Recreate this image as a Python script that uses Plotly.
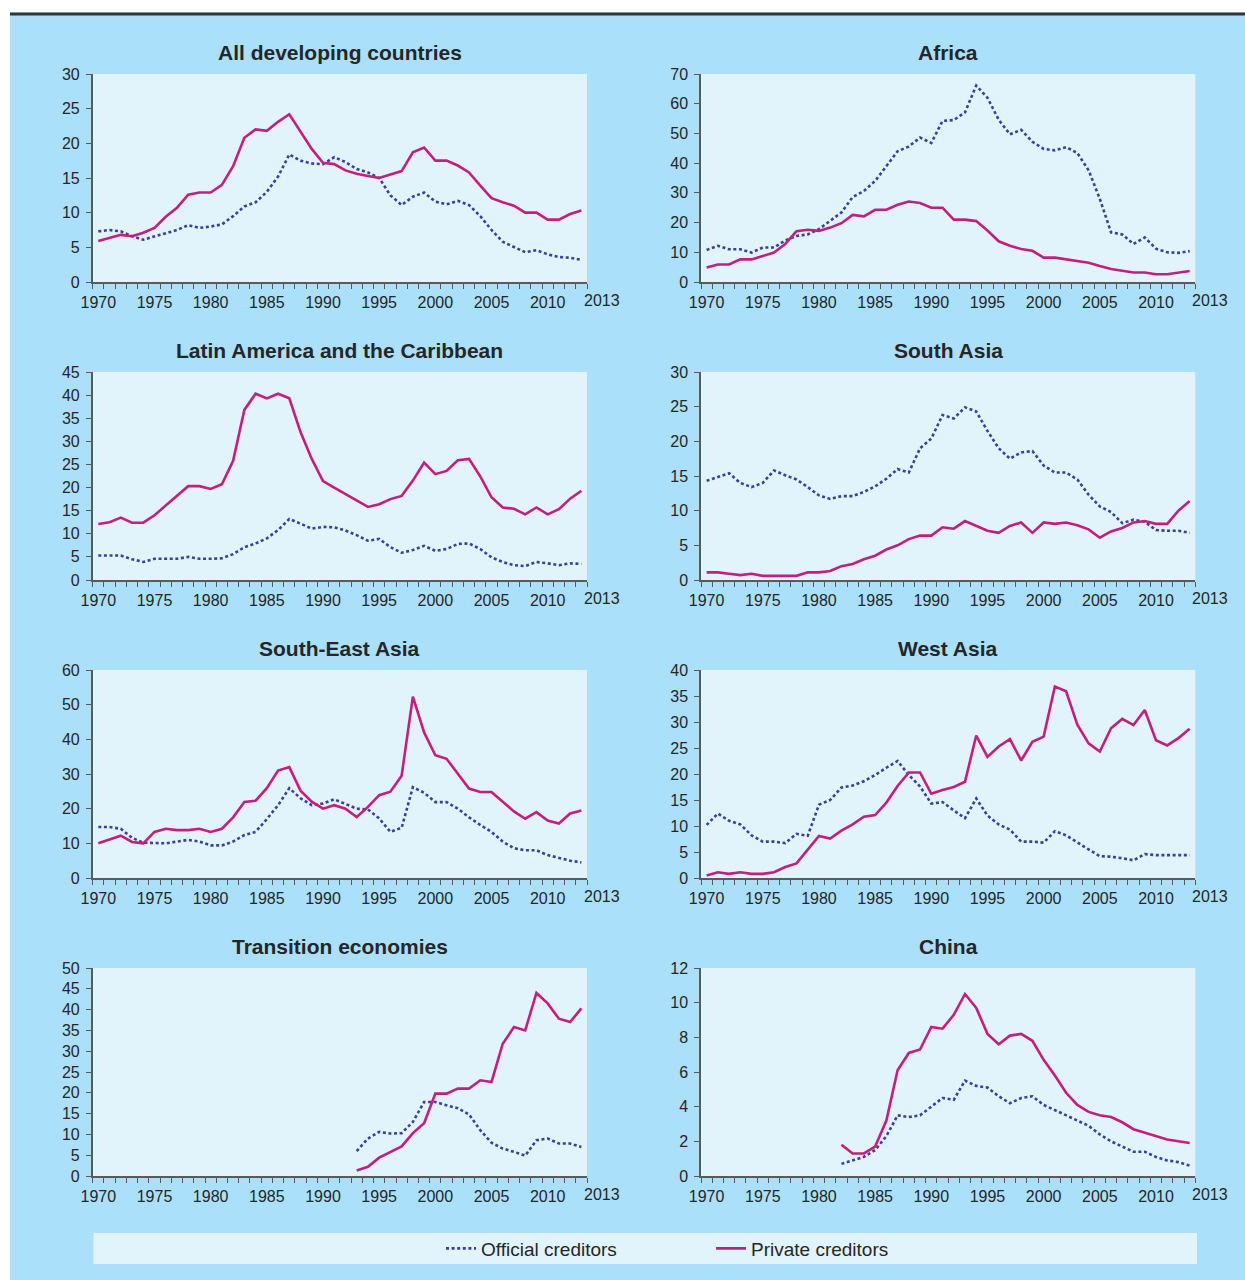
import plotly.graph_objects as go

W, H = 1245, 1280

years = list(range(1970, 2014))
years_transition = list(range(1993, 2014))
years_china = list(range(1982, 2014))

# ---- data (percent) ----
all_official = [7.3, 7.5, 7.3, 6.6, 6.1, 6.6, 7.0, 7.5, 8.2, 7.8,
                8.0, 8.3, 9.5, 10.9, 11.5, 13.0, 15.2, 18.4, 17.5, 17.1,
                17.0, 18.0, 17.3, 16.3, 15.8, 15.0, 12.5, 11.1, 12.3, 12.9,
                11.6, 11.2, 11.7, 11.1, 9.5, 7.5, 5.8, 5.0, 4.3, 4.6,
                4.0, 3.6, 3.5, 3.2]
all_private = [5.9, 6.3, 6.8, 6.6, 7.1, 7.8, 9.4, 10.7, 12.6, 12.9,
               12.9, 14.0, 16.7, 20.8, 22.0, 21.8, 23.1, 24.2, 21.6, 19.2,
               17.2, 17.0, 16.1, 15.6, 15.3, 15.0, 15.5, 16.0, 18.7, 19.4,
               17.5, 17.5, 16.8, 15.8, 13.9, 12.1, 11.5, 11.0, 10.0, 10.0,
               9.0, 9.0, 9.8, 10.3]

africa_official = [10.8, 12.2, 11.0, 11.0, 9.9, 11.6, 11.6, 14.0, 15.5, 16.0,
                   17.8, 20.5, 23.4, 28.6, 30.6, 34.0, 39.0, 44.0, 45.6, 48.6,
                   46.8, 54.2, 54.5, 57.1, 66.1, 62.0, 54.6, 49.7, 51.2, 47.2,
                   44.8, 44.3, 45.4, 43.4, 37.6, 28.0, 16.7, 16.0, 12.8, 15.0,
                   11.2, 10.0, 9.8, 10.4]
africa_private = [4.9, 5.9, 5.9, 7.6, 7.6, 8.8, 9.9, 12.8, 17.1, 17.6,
                  17.2, 18.3, 19.8, 22.6, 22.1, 24.3, 24.3, 26.0, 27.1, 26.6,
                  25.0, 25.0, 21.0, 21.0, 20.5, 17.3, 13.7, 12.2, 11.1, 10.5,
                  8.2, 8.2, 7.6, 7.1, 6.5, 5.4, 4.4, 3.8, 3.2, 3.2,
                  2.6, 2.6, 3.2, 3.7]

latam_official = [5.3, 5.3, 5.3, 4.5, 3.9, 4.6, 4.6, 4.6, 5.0, 4.6,
                  4.6, 4.7, 5.6, 7.1, 7.9, 9.0, 10.8, 13.2, 12.2, 11.1,
                  11.5, 11.4, 10.7, 9.7, 8.5, 8.9, 7.1, 5.9, 6.5, 7.4,
                  6.3, 6.7, 7.8, 7.9, 6.7, 4.9, 3.9, 3.2, 3.0, 3.9,
                  3.6, 3.2, 3.6, 3.5]
latam_private = [12.1, 12.5, 13.5, 12.4, 12.4, 14.0, 16.1, 18.2, 20.3, 20.3,
                 19.7, 20.7, 25.8, 36.8, 40.3, 39.3, 40.3, 39.3, 32.0, 26.2,
                 21.4, 20.0, 18.6, 17.2, 15.8, 16.4, 17.5, 18.2, 21.5, 25.4,
                 22.9, 23.6, 25.9, 26.2, 22.4, 17.9, 15.7, 15.4, 14.2, 15.7,
                 14.2, 15.3, 17.6, 19.3]

sasia_official = [14.3, 14.8, 15.4, 14.0, 13.4, 14.0, 15.8, 15.1, 14.5, 13.4,
                  12.2, 11.7, 12.1, 12.1, 12.7, 13.5, 14.6, 16.0, 15.5, 19.0,
                  20.4, 23.8, 23.3, 24.9, 24.3, 21.5, 19.0, 17.5, 18.4, 18.6,
                  16.5, 15.5, 15.5, 14.5, 12.3, 10.6, 9.8, 8.2, 8.7, 8.4,
                  7.2, 7.1, 7.1, 6.8]
sasia_private = [1.1, 1.1, 0.9, 0.7, 0.9, 0.6, 0.6, 0.6, 0.6, 1.1,
                 1.1, 1.3, 2.0, 2.3, 3.0, 3.5, 4.4, 5.0, 5.9, 6.4,
                 6.4, 7.6, 7.4, 8.5, 7.8, 7.1, 6.8, 7.8, 8.3, 6.8,
                 8.3, 8.1, 8.3, 7.9, 7.3, 6.1, 7.0, 7.5, 8.3, 8.5,
                 8.1, 8.1, 10.0, 11.4]

seasia_official = [14.7, 14.7, 14.2, 11.6, 10.2, 10.0, 10.0, 10.5, 11.0, 10.5,
                   9.4, 9.4, 10.5, 12.4, 13.3, 17.0, 21.0, 25.9, 23.0, 21.0,
                   21.5, 22.7, 21.3, 20.0, 19.8, 17.2, 13.3, 14.5, 26.2, 24.6,
                   21.9, 21.9, 20.0, 17.5, 15.3, 13.3, 10.5, 8.6, 8.0, 8.0,
                   6.6, 5.7, 5.0, 4.5]
seasia_private = [10.0, 11.0, 12.2, 10.4, 10.0, 13.3, 14.2, 13.8, 13.8, 14.2,
                  13.3, 14.2, 17.5, 21.9, 22.3, 25.9, 31.0, 32.0, 25.2, 22.0,
                  20.0, 21.0, 20.0, 17.6, 20.5, 23.9, 24.9, 29.5, 52.3, 42.0,
                  35.4, 34.4, 30.0, 25.8, 24.8, 24.8, 22.0, 19.2, 17.1, 19.0,
                  16.6, 15.7, 18.6, 19.5]

wasia_official = [10.2, 12.4, 11.0, 10.3, 8.2, 7.0, 7.0, 6.7, 8.5, 8.1,
                  14.1, 15.0, 17.4, 17.8, 18.6, 19.8, 21.2, 22.5, 19.8, 17.6,
                  14.3, 14.6, 13.0, 11.5, 15.3, 12.0, 10.3, 9.3, 7.0, 7.0,
                  6.8, 9.0, 8.2, 6.8, 5.5, 4.2, 4.1, 3.8, 3.4, 4.6,
                  4.4, 4.4, 4.4, 4.4]
wasia_private = [0.5, 1.1, 0.8, 1.1, 0.8, 0.8, 1.1, 2.1, 2.8, 5.5,
                 8.1, 7.6, 9.1, 10.3, 11.8, 12.1, 14.5, 17.7, 20.3, 20.3,
                 16.2, 16.9, 17.5, 18.5, 27.4, 23.3, 25.3, 26.7, 22.6, 26.2,
                 27.2, 36.8, 35.9, 29.5, 25.9, 24.3, 28.8, 30.6, 29.4, 32.3,
                 26.5, 25.5, 26.9, 28.7]

transition_official = [6.0, 9.0, 10.6, 10.2, 10.3, 13.0, 17.8, 17.8, 17.0, 16.3,
                       14.8, 11.0, 8.0, 6.6, 5.8, 4.9, 8.6, 9.0, 7.8, 7.8, 7.0]
transition_private = [1.3, 2.2, 4.4, 5.7, 7.1, 10.3, 12.7, 19.8, 19.8, 21.0,
                      21.0, 23.0, 22.6, 31.8, 35.8, 35.0, 44.0, 41.5, 37.8, 37.0, 40.3]

china_official = [0.7, 0.9, 1.1, 1.5, 2.3, 3.5, 3.4, 3.5, 4.0, 4.5,
                  4.4, 5.5, 5.2, 5.1, 4.6, 4.2, 4.5, 4.6, 4.1, 3.8,
                  3.5, 3.2, 2.9, 2.4, 2.0, 1.7, 1.4, 1.4, 1.1, 0.9,
                  0.8, 0.6]
china_private = [1.8, 1.3, 1.3, 1.7, 3.2, 6.1, 7.1, 7.3, 8.6, 8.5,
                 9.3, 10.5, 9.7, 8.2, 7.6, 8.1, 8.2, 7.8, 6.7, 5.8,
                 4.8, 4.1, 3.7, 3.5, 3.4, 3.1, 2.7, 2.5, 2.3, 2.1,
                 2.0, 1.9]

panel_titles = ["All developing countries", "Africa",
                "Latin America and the Caribbean", "South Asia",
                "South-East Asia", "West Asia",
                "Transition economies", "China"]
x_tick_labels = ["1970", "1975", "1980", "1985", "1990", "1995", "2000", "2005", "2010"]
x_tick_years = [1970, 1975, 1980, 1985, 1990, 1995, 2000, 2005, 2010]
last_year_label = "2013"
y_max = [30, 70, 45, 30, 60, 40, 50, 12]
y_step = [5, 10, 5, 5, 10, 5, 5, 2]
series_names = ["Official creditors", "Private creditors"]

panels = [
    (years, all_official, all_private),
    (years, africa_official, africa_private),
    (years, latam_official, latam_private),
    (years, sasia_official, sasia_private),
    (years, seasia_official, seasia_private),
    (years, wasia_official, wasia_private),
    (years_transition, transition_official, transition_private),
    (years_china, china_official, china_private),
]

# ---- style ----
FONT = "Liberation Sans, Arial, Helvetica, sans-serif"
PAGE_BG = "#AAE0F9"
PLOT_BG = "#E1F4FC"
OFF_COLOR = "#3C3F9C"
PRIV_COLOR = "#CC1B7B"
AXIS_COLOR = "#5A5A5A"
TEXT_COLOR = "#262626"

col_left = [92.7, 701.0]
plot_w = 494.3
row_top = [74.0, 372.0, 670.0, 968.0]
plot_h = 208.0


def px_x(v):
    return v / W


def px_y(v):
    return 1 - v / H


fig = go.Figure()
layout = {}
annotations = []

for i, (yrs, off, priv) in enumerate(panels):
    r, c = divmod(i, 2)
    n = i + 1
    suffix = "" if n == 1 else str(n)
    xa, ya = "x" + suffix, "y" + suffix

    fig.add_trace(go.Scatter(
        x=yrs, y=off, mode="lines", name=series_names[0],
        line=dict(color=OFF_COLOR, width=2.6, dash="3px,2.6px"),
        xaxis=xa, yaxis=ya, showlegend=(i == 0), legendgroup="off",
        hoverinfo="x+y"))
    fig.add_trace(go.Scatter(
        x=yrs, y=priv, mode="lines", name=series_names[1],
        line=dict(color=PRIV_COLOR, width=2.6),
        xaxis=xa, yaxis=ya, showlegend=(i == 0), legendgroup="priv",
        hoverinfo="x+y"))

    x0 = col_left[c]
    x1 = x0 + plot_w
    top = row_top[r]
    bot = top + plot_h

    layout["xaxis" + suffix] = dict(
        domain=[px_x(x0), px_x(x1)], anchor=ya, automargin=False,
        range=[1969.5, 2013.5], tickmode="array",
        tickvals=x_tick_years, ticktext=x_tick_labels,
        ticks="", ticklabelstandoff=5,
        minor=dict(tickmode="linear", tick0=1969.5, dtick=1, ticks="outside",
                   ticklen=5, tickwidth=1.2, tickcolor=AXIS_COLOR),
        showline=True, linecolor=AXIS_COLOR, linewidth=1.5,
        showgrid=False, zeroline=False, fixedrange=True,
        tickfont=dict(family=FONT, size=16, color=TEXT_COLOR))
    layout["yaxis" + suffix] = dict(
        domain=[px_y(bot), px_y(top)], anchor=xa, automargin=False,
        range=[0, y_max[i]], tickmode="linear", tick0=0, dtick=y_step[i],
        ticks="outside", ticklen=5, tickwidth=1.2, tickcolor=AXIS_COLOR,
        ticklabelstandoff=3,
        showline=True, linecolor=AXIS_COLOR, linewidth=1.5,
        showgrid=False, zeroline=False, fixedrange=True,
        tickfont=dict(family=FONT, size=16, color=TEXT_COLOR))

    # panel title
    annotations.append(dict(
        text="<b>" + panel_titles[i] + "</b>", xref="paper", yref="paper",
        x=px_x((x0 + x1) / 2), y=px_y(top - 22), xanchor="center", yanchor="middle",
        showarrow=False, font=dict(family=FONT, size=21, color=TEXT_COLOR)))
    # final-year label placed at the axis end, as in the original
    annotations.append(dict(
        text=last_year_label, xref=xa + " domain", yref=ya + " domain",
        x=1, y=0, xshift=15, yshift=-18, xanchor="center", yanchor="middle",
        showarrow=False, font=dict(family=FONT, size=16, color=TEXT_COLOR)))

shapes = [
    # white margin strips and top rule
    dict(type="rect", xref="paper", yref="paper", x0=0, x1=1, y0=px_y(12.5), y1=1,
         fillcolor="white", line=dict(width=0), layer="below"),
    dict(type="rect", xref="paper", yref="paper", x0=0, x1=px_x(10), y0=0, y1=1,
         fillcolor="white", line=dict(width=0), layer="below"),
    dict(type="rect", xref="paper", yref="paper", x0=px_x(10), x1=1,
         y0=px_y(15.5), y1=px_y(12.5),
         fillcolor="#333333", line=dict(width=0), layer="below"),
    # legend box
    dict(type="rect", xref="paper", yref="paper", x0=px_x(93.5), x1=px_x(1197),
         y0=px_y(1264), y1=px_y(1233), fillcolor=PLOT_BG, line=dict(width=0),
         layer="below"),
]

fig.update_layout(
    width=W, height=H,
    margin=dict(l=0, r=0, t=0, b=0, pad=0, autoexpand=False),
    paper_bgcolor=PAGE_BG, plot_bgcolor=PLOT_BG,
    font=dict(family=FONT, color=TEXT_COLOR),
    showlegend=True,
    legend=dict(orientation="h", x=px_x(441), xanchor="left",
                y=px_y(1248.5), yanchor="middle",
                bgcolor="rgba(0,0,0,0)", borderwidth=0,
                entrywidth=225, entrywidthmode="pixels",
                font=dict(family=FONT, size=19, color=TEXT_COLOR)),
    annotations=annotations, shapes=shapes,
    **layout)

fig.write_html(
    "out.html",
    config={"displayModeBar": False},
    post_script="document.body.style.margin='0px';"
                "document.body.style.padding='0px';"
                "document.documentElement.style.overflow='hidden';"
                "document.body.style.overflow='hidden';")
